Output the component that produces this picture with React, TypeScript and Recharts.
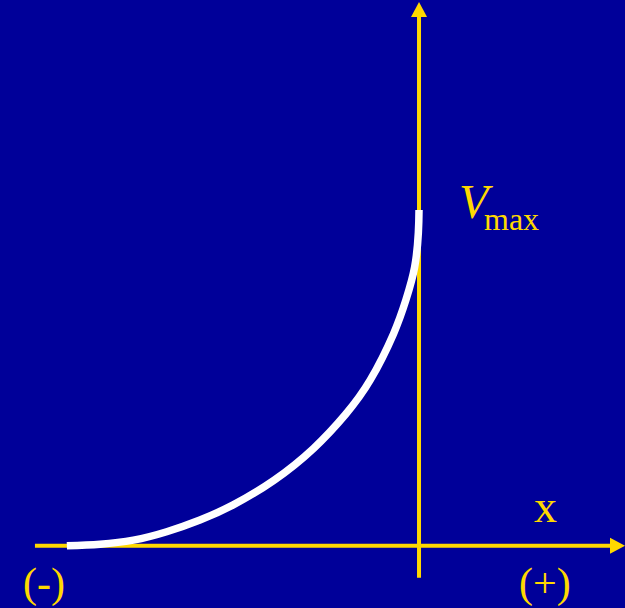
import React from 'react'
import { LineChart, Line, XAxis, YAxis, ReferenceLine } from 'recharts'

// curve: position x (relative to the Vmax axis) and velocity V / Vmax
const xValues = [-1.048, -0.949, -0.85, -0.751, -0.652, -0.553, -0.432, -0.314, -0.219, -0.145, -0.076, -0.039, -0.013, -0.002, 0]
const vValues = [0, 0.005, 0.017, 0.042, 0.077, 0.122, 0.195, 0.29, 0.391, 0.494, 0.631, 0.732, 0.83, 0.932, 1.0]

const data = xValues.map((x, i) => ({ x, v: vValues[i] }))

const BG = '#000099'
const YELLOW = '#FFD800'
const W = 625
const H = 608

const ArrowLine = (props: any) => {
  const { x1, y1, x2, y2 } = props
  const len = Math.hypot(x2 - x1, y2 - y1)
  const ux = (x2 - x1) / len
  const uy = (y2 - y1) / len
  const head = 15
  const half = 8
  const bx = x2 - ux * head
  const by = y2 - uy * head
  const pts = `${x2},${y2} ${bx - uy * half},${by + ux * half} ${bx + uy * half},${by - ux * half}`
  return (
    <g>
      <line x1={x1} y1={y1} x2={bx} y2={by} stroke={YELLOW} strokeWidth={4} />
      <polygon points={pts} fill={YELLOW} />
    </g>
  )
}

export default function App() {
  return (
    <div style={{ position: 'fixed', left: 0, top: 0, width: W, height: H, background: BG }}>
      <LineChart width={W} height={H} data={data} margin={{ top: 0, right: 0, left: 0, bottom: 0 }}>
        <XAxis dataKey="x" type="number" domain={[-1.247, 0.613]} hide allowDataOverflow />
        <YAxis type="number" domain={[-0.185, 1.625]} hide allowDataOverflow />
        <ReferenceLine
          segment={[{ x: -1.143, y: 0 }, { x: 0.613, y: 0 }]}
          shape={ArrowLine}
          ifOverflow="visible"
        />
        <ReferenceLine
          segment={[{ x: 0, y: -0.095 }, { x: 0, y: 1.619 }]}
          shape={ArrowLine}
          ifOverflow="visible"
        />
        <Line
          dataKey="v"
          type="natural"
          stroke="#ffffff"
          strokeWidth={7.5}
          strokeLinecap="butt"
          dot={false}
          activeDot={false}
          isAnimationActive={false}
        />
      </LineChart>
      <svg
        width={W}
        height={H}
        style={{ position: 'absolute', left: 0, top: 0, pointerEvents: 'none' }}
        fontFamily="'Liberation Serif', 'Times New Roman', serif"
        fill={YELLOW}
      >
        <text x={459} y={218} fontSize={48} fontStyle="italic">V</text>
        <text x={484} y={230} fontSize={32}>max</text>
        <text x={534} y={522} fontSize={46}>x</text>
        <text x={23} y={597} fontSize={42}>(-)</text>
        <text x={519} y={597} fontSize={42}>(+)</text>
      </svg>
    </div>
  )
}
